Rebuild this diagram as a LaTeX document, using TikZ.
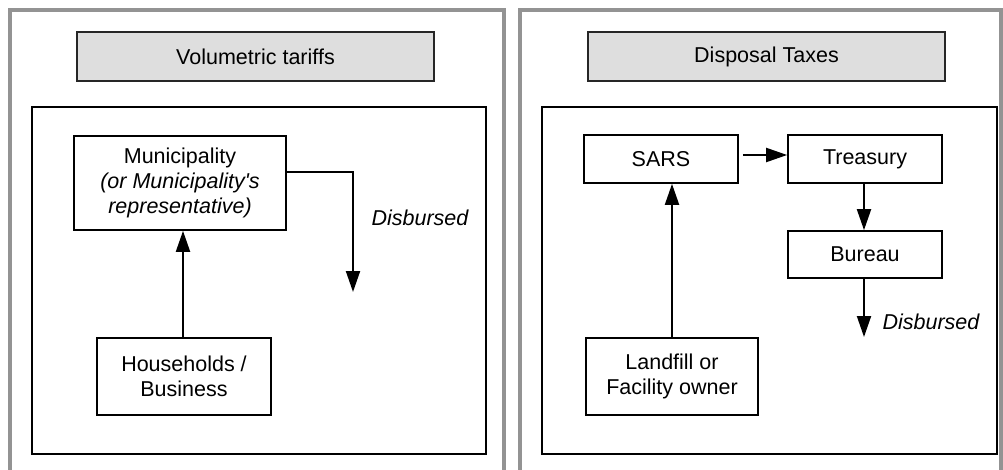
\documentclass[tikz,border=0pt]{standalone}
\usepackage{fontspec}
\setmainfont{Liberation Sans}
\usetikzlibrary{arrows.meta}
\tikzset{
  frame/.style={draw=gray!85, line width=3.5pt},
  panel/.style={draw=black, line width=1.6pt},
  titlebox/.style={draw=black!85, line width=1.6pt, fill=black!13, minimum width=357pt, minimum height=49pt, inner sep=0pt, font=\fontsize{21.5}{25}\selectfont},
  box/.style={draw=black, line width=1.7pt, fill=white, inner sep=0pt, align=center, font=\fontsize{21.5}{25}\selectfont},
  flow/.style={line width=2pt, -{Triangle[length=21pt,width=14pt]}},
  lbl/.style={font=\fontsize{21.5}{25}\selectfont\itshape, inner sep=0pt}
}
\begin{document}
\begin{tikzpicture}[x=1pt,y=-1pt]
\useasboundingbox (0,0) rectangle (1003,470);
\clip (0,0) rectangle (1003,470);
% outer frames
\draw[frame] (10,475) -- (10,10) -- (504,10) -- (504,475);
\draw[frame] (520,475) -- (520,10) -- (1001,10) -- (1001,475);
% inner panels
\draw[panel] (32,107) rectangle (486,454);
\draw[panel] (542,107) rectangle (997,454);
% titles
\node[titlebox] (t1) at (255.5,56.5) {Volumetric tariffs};
\node[titlebox] (t2) at (766.5,56.5) {Disposal Taxes};
% left diagram
\node[box, minimum width=212pt, minimum height=94pt] (mun) at (180,183)
  {Municipality\\\itshape (or Municipality\textquotesingle s\\\itshape representative)};
\node[box, minimum width=174pt, minimum height=77pt] (hh) at (184,376.5)
  {Households /\\Business};
\coordinate (d1) at (353,292);
\draw[flow] (hh.north -| 183,0) -- (183,0 |- mun.south);
\draw[flow] ([yshift=11pt]mun.east) -| (d1);
\node[lbl] (l1) at (420,218) {Disbursed};
% right diagram
\node[box, minimum width=154pt, minimum height=48pt] (sars) at (661,159) {SARS};
\node[box, minimum width=154pt, minimum height=48pt] (tre) at (865,159) {Treasury};
\node[box, minimum width=154pt, minimum height=47pt] (bur) at (865,254.5) {Bureau};
\node[box, minimum width=172pt, minimum height=77pt] (lf) at (672,376.5)
  {Landfill or\\Facility owner};
\coordinate (d2) at (864,337);
\draw[flow, shorten <=4pt] ([yshift=4pt]sars.east) -- ([yshift=4pt]tre.west);
\draw[flow] (tre.south -| d2) -- (bur.north -| d2);
\draw[flow] (bur.south -| d2) -- (d2);
\draw[flow] (lf.north) -- (lf.north |- sars.south);
\node[lbl] (l2) at (931,322) {Disbursed};
\end{tikzpicture}
\end{document}
